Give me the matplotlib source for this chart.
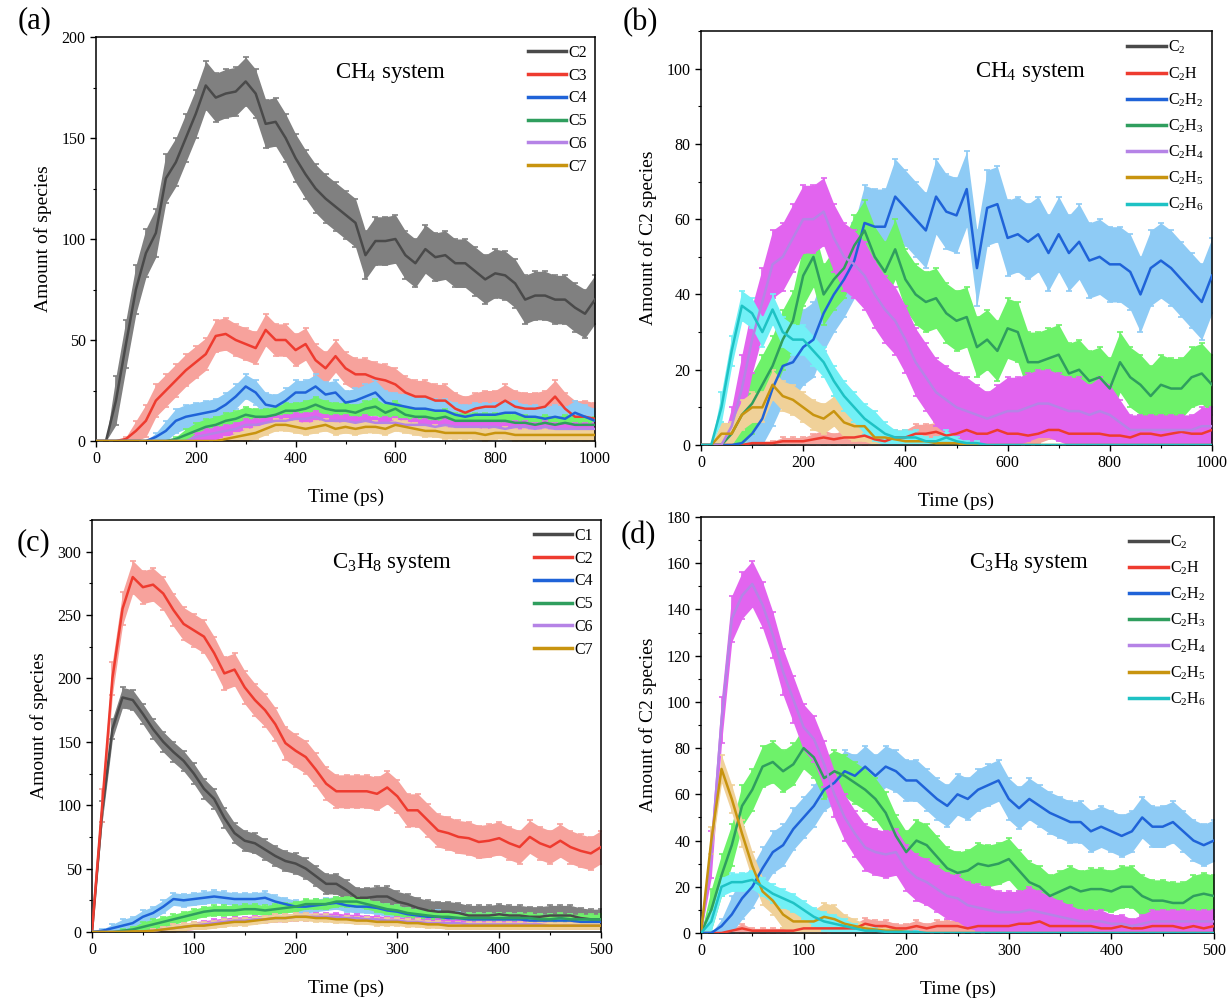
import numpy as np
import matplotlib
matplotlib.use("Agg")
import matplotlib.pyplot as plt
from matplotlib.lines import Line2D
from matplotlib.ticker import MultipleLocator, AutoMinorLocator

plt.rcParams["font.family"] = ["Liberation Serif", "DejaVu Serif"]
plt.rcParams["mathtext.fontset"] = "custom"
plt.rcParams["mathtext.rm"] = "Liberation Serif"
plt.rcParams["mathtext.it"] = "Liberation Serif:italic"

# sampling times (ps)
t_ch4 = np.arange(0, 1001, 20)
t_c3h8 = np.arange(0, 501, 10)

# (a) CH4 system, carbon-number groups
a_labels = ["C2", "C3", "C4", "C5", "C6", "C7"]
a_c2 = [0, 0, 20, 48, 75, 93, 103, 130, 138, 150, 162, 176, 170, 172, 173, 178, 172, 157, 158, 150,
        140, 132, 125, 120, 116, 112, 108, 92, 99, 99, 100, 92, 88, 95, 91, 92, 88, 88, 84, 80,
        83, 82, 78, 70, 72, 72, 70, 70, 66, 63, 70]
a_c3 = [0, 0, 0, 1, 5, 10, 20, 25, 30, 35, 39, 43, 52, 53, 50, 48, 46, 55, 50, 50,
        45, 48, 40, 36, 42, 36, 33, 33, 31, 30, 28, 24, 22, 22, 20, 20, 16, 14, 16, 17,
        17, 20, 17, 16, 16, 17, 22, 16, 12, 12, 11]
a_c4 = [0, 0, 0, 0, 0, 0, 2, 5, 10, 12, 13, 14, 15, 18, 22, 27, 24, 18, 17, 20,
        24, 24, 27, 23, 24, 19, 20, 22, 24, 19, 18, 17, 16, 16, 15, 15, 13, 12, 13, 13,
        13, 14, 14, 12, 12, 11, 12, 11, 14, 12, 10]
a_c5 = [0, 0, 0, 0, 0, 0, 0, 0, 1, 3, 5, 7, 8, 10, 11, 13, 12, 12, 13, 15,
        15, 16, 18, 16, 15, 15, 14, 16, 17, 14, 16, 13, 12, 12, 11, 12, 10, 10, 10, 10,
        10, 10, 9, 9, 8, 9, 8, 9, 8, 8, 8]
a_c6 = [0, 0, 0, 0, 0, 0, 0, 0, 0, 0, 2, 3, 4, 5, 6, 8, 8, 9, 10, 10,
        11, 11, 12, 10, 10, 10, 9, 10, 9, 9, 9, 8, 8, 8, 7, 8, 7, 7, 7, 7,
        7, 6, 7, 7, 6, 7, 6, 6, 6, 6, 6]
a_c7 = [0, 0, 0, 0, 0, 0, 0, 0, 0, 0, 0, 0, 0, 1, 2, 3, 4, 6, 8, 8,
        7, 6, 7, 8, 6, 7, 6, 7, 7, 6, 8, 7, 6, 5, 5, 4, 4, 4, 4, 3,
        4, 4, 3, 3, 3, 3, 3, 3, 3, 3, 3]
a_err = [12, 8, 6, 4, 3, 3]

# (b) CH4 system, C2 species
b_labels = [r"C$_2$", r"C$_2$H", r"C$_2$H$_2$", r"C$_2$H$_3$", r"C$_2$H$_4$", r"C$_2$H$_5$", r"C$_2$H$_6$"]
b_c2 = [0, 0, 0, 0, 0, 0, 0, 0, 0, 0, 0, 0, 0, 0, 0, 0, 0, 0, 0, 0,
        0, 0, 0, 0, 0, 0, 0, 0, 0, 0, 0, 0, 0, 0, 0, 0, 0, 0, 0, 0,
        0, 0, 0, 0, 0, 0, 0, 0, 0, 0, 0]
b_c2h = [0, 0, 0, 0, 0, 0.5, 0.5, 0.5, 1, 1, 1, 1.5, 2, 1.5, 2, 2, 2.5, 1.5, 1, 2,
         2, 3, 3, 3.5, 2.5, 3, 4, 3, 3, 4, 3, 3, 2.5, 3, 4, 4, 3, 3, 3, 3,
         2.5, 2.5, 2, 3, 3, 2.5, 3, 3.5, 3, 3, 4]
b_c2h2 = [0, 0, 0, 0, 0.5, 3, 7, 15, 21, 22, 26, 28, 35, 40, 44, 49, 59, 58, 58, 66,
          63, 60, 57, 66, 62, 61, 68, 47, 63, 64, 55, 56, 54, 56, 51, 56, 51, 54, 49, 50,
          48, 48, 46, 40, 47, 49, 47, 44, 41, 38, 45]
b_c2h3 = [0, 0, 0, 3, 8, 11, 16, 21, 28, 33, 45, 50, 40, 44, 47, 53, 57, 50, 46, 52,
          44, 40, 38, 39, 35, 33, 34, 26, 28, 25, 31, 30, 22, 22, 23, 24, 19, 20, 17, 18,
          15, 22, 18, 16, 13, 16, 15, 15, 18, 19, 16]
b_c2h4 = [0, 0, 0, 5, 15, 28, 38, 48, 50, 55, 60, 60, 62, 55, 50, 48, 45, 40, 36, 33,
          28, 22, 18, 14, 12, 10, 9, 8, 7, 8, 9, 9, 10, 11, 11, 10, 9, 9, 8, 9,
          8, 6, 4, 4, 4, 4, 4, 4, 4, 5, 5]
b_c2h5 = [0, 0, 3, 3, 8, 10, 10, 16, 13, 12, 10, 8, 7, 9, 6, 5, 5, 2, 2, 1.5,
          1, 1, 1, 0.5, 0.5, 0.5, 0, 0, 0, 0, 0, 0, 0, 0, 0, 0, 0, 0, 0, 0,
          0, 0, 0, 0, 0, 0, 0, 0, 0, 0, 0]
b_c2h6 = [0, 0, 10, 25, 37, 35, 30, 36, 30, 28, 28, 25, 22, 17, 13, 10, 7, 5, 3, 2,
          2, 2, 1, 1, 2, 1, 0.5, 0.5, 0, 0, 0, 0, 0, 0, 0, 0, 0, 0, 0, 0,
          0, 0, 0, 0, 0, 0, 0, 0, 0, 0, 0]
b_err = [0.5, 2.5, 10, 8, 9, 4, 4]

# (c) C3H8 system, carbon-number groups
c_labels = ["C1", "C2", "C4", "C5", "C6", "C7"]
c_c1 = [0, 95, 160, 185, 183, 172, 160, 150, 142, 135, 125, 113, 105, 90, 78, 72, 70, 65, 60, 56,
        54, 50, 44, 38, 38, 33, 27, 27, 28, 28, 24, 22, 19, 17, 16, 16, 15, 13, 13, 13,
        14, 13, 13, 12, 12, 13, 13, 13, 11, 10, 10]
c_c2 = [0, 100, 200, 255, 280, 272, 274, 267, 254, 243, 238, 233, 220, 204, 207, 193, 183, 175, 164, 149,
        143, 138, 128, 117, 111, 111, 111, 111, 109, 114, 107, 96, 96, 88, 80, 78, 75, 74, 71, 72,
        74, 70, 67, 75, 70, 67, 72, 67, 64, 62, 67]
c_c4 = [0, 1, 3, 5, 7, 12, 15, 20, 26, 25, 26, 27, 28, 27, 26, 26, 26, 27, 24, 22,
        20, 20, 21, 22, 23, 21, 20, 20, 19, 17, 16, 14, 13, 12, 12, 11, 11, 10, 10, 10,
        10, 10, 10, 9, 9, 9, 9, 9, 8, 8, 8]
c_c5 = [0, 0, 0, 1, 2, 4, 6, 8, 10, 12, 14, 16, 17, 17, 17, 18, 18, 17, 18, 19,
        20, 22, 22, 22, 24, 24, 24, 22, 20, 18, 17, 15, 14, 13, 12, 12, 11, 11, 11, 11,
        11, 11, 11, 11, 10, 10, 11, 10, 10, 10, 10]
c_c6 = [0, 0, 0, 0, 0, 0.5, 1, 2, 3, 4, 5, 6, 7, 8, 9, 9, 10, 10, 11, 11,
        12, 12, 12, 12, 12, 11, 11, 10, 10, 9, 9, 8, 8, 7, 7, 7, 7, 6, 6, 6,
        6, 6, 6, 6, 6, 5, 5, 5, 5, 5, 5]
c_c7 = [0, 0, 0, 0, 0.5, 0.5, 1, 2, 3, 4, 5, 5, 6, 7, 8, 8, 9, 10, 11, 11,
        12, 12, 11, 11, 10, 10, 9, 9, 8, 8, 8, 7, 7, 6, 6, 5, 5, 5, 5, 5,
        5, 5, 5, 5, 5, 5, 5, 5, 5, 5, 5]
c_err = [8, 13, 5, 4, 3, 3]

# (d) C3H8 system, C2 species
d_labels = b_labels
d_c2 = [0, 0, 0, 0, 0, 0, 0, 0, 0, 0, 0, 0, 0, 0, 0, 0, 0, 0, 0, 0,
        0, 0, 0, 0, 0, 0, 0, 0, 0, 0, 0, 0, 0, 0, 0, 0, 0, 0, 0, 0,
        0, 0, 0, 0, 0, 0, 0, 0, 0, 0, 0]
d_c2h = [0, 0, 0, 1, 2, 1, 1, 1, 1, 1, 2, 2, 2, 2, 2, 2, 4, 3, 3, 2,
         2, 3, 2, 3, 3, 3, 2, 3, 3, 3, 3, 4, 4, 5, 3, 3, 3, 3, 3, 2,
         2, 3, 2, 2, 3, 3, 3, 2, 3, 2, 3]
d_c2h2 = [0, 0, 3, 8, 15, 20, 28, 35, 38, 45, 50, 55, 62, 65, 70, 68, 72, 68, 72, 70,
          66, 66, 62, 58, 55, 60, 58, 62, 64, 66, 58, 54, 58, 55, 52, 50, 48, 48, 44, 46,
          44, 42, 44, 50, 46, 46, 48, 44, 40, 38, 40]
d_c2h3 = [0, 10, 25, 38, 55, 62, 72, 74, 70, 73, 80, 76, 67, 70, 68, 65, 62, 58, 52, 42,
          35, 40, 38, 33, 28, 26, 27, 30, 29, 30, 32, 27, 22, 20, 16, 18, 20, 18, 19, 19,
          18, 20, 20, 16, 14, 14, 13, 13, 16, 17, 16]
d_c2h4 = [0, 34, 92, 136, 146, 151, 142, 129, 113, 101, 89, 84, 73, 60, 50, 43, 37, 35, 34, 35,
          28, 24, 22, 19, 16, 15, 12, 11, 10, 9, 9, 9, 10, 9, 8, 7, 6, 5, 5, 5,
          4, 4, 3, 4, 5, 5, 5, 5, 5, 5, 5]
d_c2h5 = [0, 40, 71, 58, 43, 29, 18, 14, 8, 5, 5, 5, 7, 6, 4, 3, 2, 1.5, 1, 1,
          0.5, 0, 0, 0, 0, 0, 0, 0, 0, 0, 0, 0, 0, 0, 0, 0, 0, 0, 0, 0,
          0, 0, 0, 0, 0, 0, 0, 0, 0, 0, 0]
d_c2h6 = [0, 5, 20, 22, 22, 23, 20, 17, 15, 13, 10, 7, 5, 4, 3, 2, 1, 1, 0.5, 0.5,
          0.5, 0.5, 0, 0, 0, 0, 0, 0, 0, 0, 0, 0, 0, 0, 0, 0, 0, 0, 0, 0,
          0, 0, 0, 0, 0, 0, 0, 0, 0, 0, 0]
d_err = [0.5, 2.5, 9, 9, 10, 6, 4]

# (line colour, error-bar colour)
GRAY = ("#4a4a4a", "#808080")
RED = ("#ee3b2f", "#f7a29c")
BLUE = ("#1f63d8", "#8ecbf5")
GREEN = ("#2f9e5e", "#6ef26a")
PURPLE = ("#b583e6", "#e264ef")
GOLD = ("#c8940f", "#f0d199")
CYAN = ("#1ec2c4", "#72f0f6")


def draw_panel(ax, t, series, labels, errs, colors, xmax, xstep, ymax, ystep,
               ylabel, title, title_xy, legend_spacing, legend_anchor):
    # error bars first, then all mean lines on top
    for y, err, (lc, ec) in zip(series, errs, colors):
        y = np.asarray(y, dtype=float)
        e = np.minimum(err, y)
        ax.fill_between(t, y - e, y + e, color=ec, lw=0, zorder=1)
        ax.errorbar(t, y, yerr=e, fmt="none", ecolor=ec, elinewidth=1.2,
                    capsize=2.5, capthick=1.2, zorder=1)
    for y, (lc, ec) in zip(series, colors):
        ax.plot(t, y, color=lc, lw=1.8, zorder=3)

    ax.set_xlim(0, xmax)
    ax.set_ylim(0, ymax)
    ax.xaxis.set_major_locator(MultipleLocator(xstep))
    ax.yaxis.set_major_locator(MultipleLocator(ystep))
    ax.xaxis.set_minor_locator(AutoMinorLocator(2))
    ax.yaxis.set_minor_locator(AutoMinorLocator(2))
    ax.tick_params(which="major", direction="out", length=4, width=1, labelsize=11.5,
                   top=False, right=False)
    ax.tick_params(which="minor", direction="out", length=2.5, width=0.8,
                   top=False, right=False)
    for sp in ax.spines.values():
        sp.set_linewidth(1.1)
    ax.set_xlabel("Time (ps)", fontsize=14, labelpad=15)
    ax.set_ylabel(ylabel, fontsize=14, labelpad=7)
    ax.text(title_xy[0], title_xy[1], title, transform=ax.transAxes, fontsize=16.5,
            ha="center", va="center")

    handles = [Line2D([], [], color=lc, lw=2.5) for lc, ec in colors]
    ax.legend(handles, labels, loc="upper right", bbox_to_anchor=legend_anchor,
              frameon=False, fontsize=11.5, handlelength=2.4, handletextpad=0.15,
              labelspacing=legend_spacing, borderaxespad=0.3, borderpad=0.2)


fig = plt.figure(figsize=(12.31, 9.98), dpi=100)
W, H = 1231.0, 998.0


def place(left, right, top, bottom):
    return fig.add_axes([left / W, 1 - bottom / H, (right - left) / W, (bottom - top) / H])


ax_a = place(96, 595, 37, 441)
ax_b = place(701, 1212, 31, 445)
ax_c = place(92, 601, 520, 932)
ax_d = place(701, 1214, 517, 933)

draw_panel(ax_a, t_ch4, [a_c2, a_c3, a_c4, a_c5, a_c6, a_c7], a_labels, a_err,
           [GRAY, RED, BLUE, GREEN, PURPLE, GOLD], 1000, 200, 200, 50,
           "Amount of species", r"CH$_4$ system", (0.59, 0.912), 0.42, (1.0, 1.0))
draw_panel(ax_b, t_ch4, [b_c2, b_c2h, b_c2h2, b_c2h3, b_c2h4, b_c2h5, b_c2h6], b_labels, b_err,
           [GRAY, RED, BLUE, GREEN, PURPLE, GOLD, CYAN], 1000, 200, 110, 20,
           "Amount of C2 species", r"CH$_4$ system", (0.645, 0.9), 0.55, (1.0, 1.0))
draw_panel(ax_c, t_c3h8, [c_c1, c_c2, c_c4, c_c5, c_c6, c_c7], c_labels, c_err,
           [GRAY, RED, BLUE, GREEN, PURPLE, GOLD], 500, 100, 325, 50,
           "Amount of species", r"C$_3$H$_8$ system", (0.59, 0.896), 0.42, (1.0, 1.0))
draw_panel(ax_d, t_c3h8, [d_c2, d_c2h, d_c2h2, d_c2h3, d_c2h4, d_c2h5, d_c2h6], d_labels, d_err,
           [GRAY, RED, BLUE, GREEN, PURPLE, GOLD, CYAN], 500, 100, 180, 20,
           "Amount of C2 species", r"C$_3$H$_8$ system", (0.64, 0.889), 0.55, (1.0, 0.98))

for lab, x, y in [("(a)", 35, 21), ("(b)", 640, 23), ("(c)", 33, 543), ("(d)", 638, 536)]:
    fig.text(x / W, 1 - y / H, lab, fontsize=22, ha="center", va="center")

fig.savefig("out.png", dpi=100)
